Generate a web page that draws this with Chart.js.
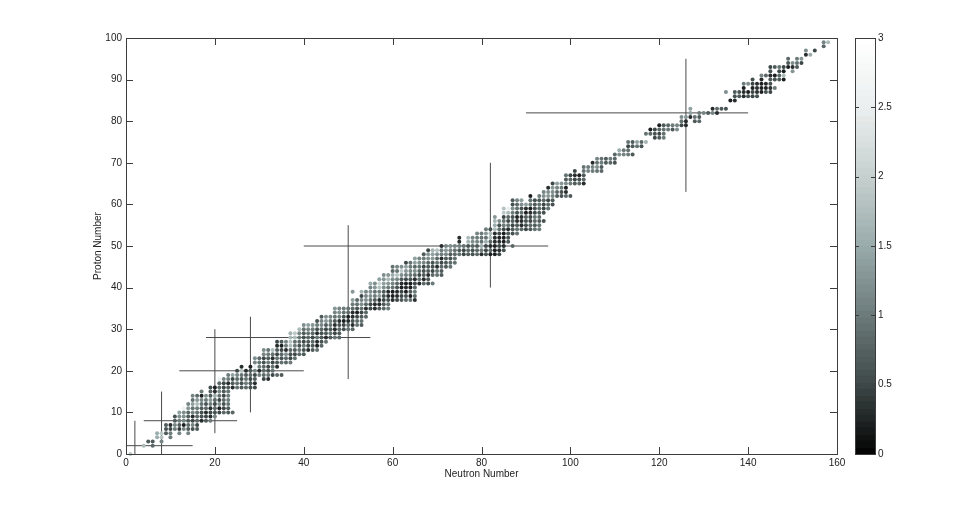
<!DOCTYPE html>
<html>
<head>
<meta charset="utf-8">
<script src="https://cdn.jsdelivr.net/npm/chart.js@4"></script>
<style>
html,body{margin:0;padding:0;background:#fff;width:969px;height:510px;overflow:hidden}
canvas{position:absolute;top:0;filter:blur(0.35px)}
#main{left:0}
#bar{left:850px}
</style>
</head>
<body>
<canvas id="main" width="969" height="510"></canvas>
<canvas id="bar" width="60" height="510"></canvas>
<script>
const xTitle = "Neutron Number";
const yTitle = "Proton Number";
const protonNumbers = [0,2,3,4,5,6,7,8,9,10,11,12,13,14,15,16,17,18,19,20,21,22,23,24,25,26,27,28,29,30,31,32,33,34,35,36,37,38,39,40,41,42,43,44,45,46,47,48,49,50,51,52,53,54,55,56,57,58,59,60,61,62,63,64,65,66,67,68,69,70,71,72,73,74,75,76,77,78,79,80,81,82,83,85,86,87,88,89,90,91,92,93,94,95,96,97,98,99];
const firstNeutron = [1,4,5,7,7,9,9,11,11,12,13,14,15,15,17,19,21,21,23,25,26,29,29,31,31,34,34,37,37,39,40,43,44,47,47,51,51,53,51,55,55,57,58,60,60,63,65,67,68,71,75,75,79,81,83,83,83,85,85,87,87,91,94,95,96,99,99,101,103,105,106,110,111,113,113,119,117,118,120,125,125,127,127,136,137,135,139,139,141,143,145,145,149,149,153,153,157,157];
const rowValues = [
[1.9],
[1.7,null,0.8],
[0.7,0.7,null,1.1],
[1.5,1.8,null,1.0],
[1.5,1.9,0.7,1.0,null,1.1,null,1.1],
[0.6,0.5,1.0,0.4,1.1,0.7,0.6,0.7],
[0.7,0.3,1.1,0.7,0.2,0.8,1.1,0.5],
[0.7,1.0,1.1,0.7,0.5,0.8,0.3,0.7,1.0],
[0.6,1.2,1.2,0.7,0.3,0.8,0.6,0.5,0.3,1.1],
[1.4,1.2,0.8,1.1,0.9,0.6,0.3,0.5,0.6,0.5,0.8,0.7,0.8],
[2.6,1.3,0.9,1.0,0.7,0.8,0.3,0.8,0.2,0.5,0.7],
[1.1,1.4,1.7,0.9,0.6,1.0,0.5,1.2,0.6,0.9],
[0.9,1.3,1.1,1.0,1.3,0.8,0.5,0.8,1.0],
[1.1,0.8,0.2,1.2,0.7,1.5,0.9,0.5,1.0],
[1.0,null,0.8,0.3,1.1,0.7,0.9],
[0.6,0.2,0.8,0.5,0.7,0.3,0.9,0.7,0.8,0.6,0.5],
[0.8,0.5,0.3,0.7,0.9,0.6,1.0,0.7,0.3],
[2.5,1.1,1.0,0.5,0.8,0.6,0.9,0.5,0.7,null,0.5,0.3],
[1.0,1.4,1.1,0.9,0.7,0.8,0.5,1.0,0.8,0.9,0.5,0.8,0.7],
[0.5,1.8,0.3,0.7,1.1,0.3,0.8,0.6,0.9],
[0.3,null,0.2,2.5,1.0,0.8,0.5,0.9,0.3],
[1.1,0.9,0.6,1.0,0.5,0.7,0.9,0.8,1.0],
[1.2,0.8,0.5,0.7,0.3,0.9,0.6,0.8,0.5,0.9],
[1.1,1.0,0.9,0.5,0.8,1.2,0.6,0.5,0.8,0.7],
[1.2,0.9,1.7,0.7,0.5,0.3,0.8,0.7,0.9,0.6,0.3,0.7,0.9],
[0.3,0.2,1.0,1.7,1.0,0.6,0.9,0.5,0.7,0.2,0.8],
[0.5,0.7,1.1,1.8,0.9,0.8,0.5,0.7,0.8,0.3,0.6,0.9],
[1.7,1.7,1.0,0.6,0.8,0.5,0.9,0.7,0.3,0.7,0.9,0.8],
[1.6,1.9,1.1,0.7,0.9,0.8,0.3,0.6,0.7,0.9,0.5,0.7],
[1.7,0.9,1.1,1.0,0.6,0.8,0.5,0.7,0.3,0.8,0.6,0.9,0.8],
[1.2,1.4,1.3,1.0,1.1,0.7,0.9,0.3,0.6,0.5,0.8,0.3,0.9,0.7],
[0.6,1.1,1.3,1.0,0.7,0.3,0.2,0.3,0.6,0.8,0.9],
[0.7,1.2,1.1,0.9,1.0,0.6,0.2,0.3,0.5,0.7,0.8],
[1.1,1.2,0.9,0.8,0.3,0.2,0.5,0.8],
[1.3,1.1,1.0,0.9,0.8,0.6,0.9,0.3,0.5,0.3,0.7,0.8,1.0],
[1.0,0.9,1.2,0.8,0.5,0.3,0.3,0.7,0.9],
[1.4,0.8,1.1,1.2,0.9,0.7,0.3,0.5,0.6,0.3,0.5,0.7,0.8,0.9,0.3],
[0.5,1.1,1.2,1.0,1.3,0.6,0.3,0.2,0.3,0.5,0.6,0.2,0.8],
[1.3,null,1.6,1.1,1.2,0.9,1.0,0.7,0.3,0.2,0.3,0.5,0.2,0.7,1.0],
[1.1,1.3,1.8,1.2,1.0,0.9,0.6,0.2,0.3,0.2,0.8],
[1.5,1.2,2.1,1.4,1.3,1.1,0.8,0.3,0.2,0.2,0.5,0.3,0.8,0.6,1.0],
[1.4,1.3,1.7,1.2,1.1,0.7,0.5,0.6,0.3,0.9,0.3,0.7],
[1.2,1.3,1.5,1.8,1.2,1.0,0.9,0.8,0.5,0.7,0.3,0.8,0.9,0.7],
[0.8,0.9,1.9,1.3,1.1,1.2,0.8,0.6,0.7,0.5,0.9,0.7],
[0.9,1.1,1.2,1.4,1.0,0.8,0.9,0.5,0.7,0.6,0.3,0.8,0.7,0.9],
[0.5,0.9,1.4,1.2,1.1,0.8,0.6,0.9,0.5,0.7,0.8,0.9],
[1.4,1.1,1.0,1.2,1.3,0.8,0.3,0.7,0.6,0.9],
[0.7,1.3,1.4,1.2,1.0,1.1,0.7,0.8,0.9,0.5,0.7,0.6,0.8,0.3,0.6,0.2,0.2,0.5],
[0.5,1.6,1.8,1.0,1.3,1.1,0.9,0.7,0.5,0.8,0.6,0.8,1.0,0.5,0.8,0.2,0.3,0.6],
[0.3,1.1,1.2,1.1,1.0,0.9,0.6,0.8,0.7,1.5,0.5,0.3,0.2,0.5,0.3,null,0.8],
[0.3,null,1.6,1.2,1.1,0.9,1.5,0.8,0.3,0.3,0.2,0.7],
[0.3,null,1.7,1.1,1.0,0.9,0.9,1.7,0.3,0.2,0.2,0.6],
[1.1,1.0,1.3,1.7,0.3,0.5,0.2,0.7,0.6,0.9],
[1.0,0.6,1.7,0.9,0.5,0.3,0.7,0.9,0.8,0.5,0.7,0.9,1.0],
[1.5,0.6,1.0,0.9,0.5,0.7,0.3,0.6,0.8,0.7,0.9],
[1.6,1.2,0.9,0.5,0.7,0.3,0.3,0.6,0.5,0.8,0.7,0.6],
[1.3,null,0.5,0.8,0.6,0.2,0.3,0.7,0.5,0.9,0.8],
[1.9,1.7,1.0,0.6,0.9,0.2,0.3,0.5,0.7,0.6],
[1.8,2.5,1.2,0.9,0.6,0.3,0.2,0.6,0.8,0.5,0.9],
[0.6,0.8,1.2,1.4,1.0,0.7,0.9,0.5,0.8,0.6],
[0.7,1.1,1.4,null,0.9,0.6,0.7,0.8,0.5,0.7],
[0.2,null,1.0,1.2,1.3,1.1,0.7,0.6,0.8,0.7],
[1.1,1.2,1.2,0.8,0.6,0.3],
[0.3,1.3,1.1,1.0,0.2],
[0.5,1.4,1.3,1.2,1.0,0.7,0.8,0.3],
[0.7,0.8,0.5,0.6,0.8],
[0.9,0.5,0.3,0.2,0.7],
[0.5,null,0.9,1.1,1.0,0.9,0.8],
[0.9,1.0,1.1,1.2,0.7],
[0.3,0.9,1.0,0.7,0.8,0.6],
[1.1,0.9,0.7,1.0,0.8],
[0.8,1.2,1.1,1.0,0.7],
[1.5,1.0,0.9],
[0.5,0.7,0.9,0.6],
[0.9,0.7,1.4,0.8,1.6],
[0.5,0.7,1.0],
[0.9,0.8,0.6,0.5,0.9],
[0.2,0.5,0.8,0.9,1.0,0.7,1.2],
[0.2,0.7,0.8,1.0,1.1,0.5,0.3],
[0.9,0.3,null,0.7,0.8],
[1.2,1.3,0.3,0.9,0.7],
[1.4,null,1.0,1.1,0.7,1.1,0.3],
[1.4,null,null,null,null,0.3,0.8,0.7,0.6],
[0.2,0.3],
[0.6,0.7,0.3,0.6,0.5,0.6],
[1.2,null,0.7,0.6,0.3,0.2,0.5,0.3,0.2,0.6,0.5],
[0.2,null,0.2,0.3,0.2,0.2,0.3,1.0],
[1.0,1.2,0.5,0.3,0.2,0.3,0.6],
[0.6,null,0.3,null,0.7,0.6,0.7,0.2],
[1.1,0.8,0.3,0.2,0.8,1.7],
[0.6,null,0.5,0.2,null,1.3],
[0.5,0.7,0.9,0.5,0.2,0.3,0.7],
[0.7,1.2,0.9,0.5],
[0.8,null,1.0,1.3,2.9],
[0.3,1.5],
[1.2,null,0.5],
[0.8],
[1.1,1.7]
];
const xTicks = [0,20,40,60,80,100,120,140,160];
const yTicks = [0,10,20,30,40,50,60,70,80,90,100];
const colorTicks = [0,0.5,1,1.5,2,2.5,3];
const magicLinesHorizontal = [[2,0,15],[8,4,25],[20,12,40],[28,18,55],[50,40,95],[82,90,140]];
const magicLinesVertical = [[2,0,8],[8,0,15],[20,5,30],[28,10,33],[50,18,55],[82,40,70],[126,63,95]];
const colorStops = [[0,5,5,5],[0.167,64,74,74],[0.333,109,123,123],[0.5,154,171,171],[0.667,197,208,206],[0.833,234,238,238],[1,255,255,255]];
const colorLevels = 64;

function colourOf(v){
  const idx = Math.min(colorLevels-1, Math.floor(v/3*colorLevels));
  const t = idx/(colorLevels-1);
  for(let i=1;i<colorStops.length;i++){
    if(t<=colorStops[i][0]){
      const a=colorStops[i-1], b=colorStops[i], f=(t-a[0])/(b[0]-a[0]);
      return `rgb(${[1,2,3].map(k=>Math.round(a[k]+(b[k]-a[k])*f)).join(',')})`;
    }
  }
  return 'rgb(255,255,255)';
}

const points=[], pointColours=[];
rowValues.forEach((row,r)=>row.forEach((v,i)=>{
  if(v===null) return;
  points.push({x:firstNeutron[r]+i,y:protonNumbers[r]});
  pointColours.push(colourOf(v));
}));

const lineStyle={showLine:true,pointRadius:0,borderColor:'#4a4a4a',borderWidth:1,order:1,parsing:false,clip:false};
const lineSets=[
  ...magicLinesHorizontal.map(([z,a,b])=>({...lineStyle,data:[{x:a,y:z},{x:b,y:z}]})),
  ...magicLinesVertical.map(([n,a,b])=>({...lineStyle,data:[{x:n,y:a},{x:n,y:b}]}))
];

const boxTicks={
  id:'boxTicks',
  afterDraw(c,args,o){
    const g=c.ctx,a=c.chartArea;
    g.save();g.strokeStyle='#3c3c3c';g.lineWidth=1;
    g.strokeRect(Math.round(a.left)+0.5,Math.round(a.top)+0.5,Math.round(a.width),Math.round(a.height));
    g.beginPath();
    const ys=c.scales.y;
    ys.ticks.forEach(t=>{
      const p=Math.round(ys.getPixelForValue(t.value))+0.5;
      g.moveTo(a.left,p);g.lineTo(a.left+o.len,p);
      g.moveTo(a.right,p);g.lineTo(a.right-o.len,p);
    });
    if(o.xTicks){
      const xs=c.scales.x;
      xs.ticks.forEach(t=>{
        const p=Math.round(xs.getPixelForValue(t.value))+0.5;
        g.moveTo(p,a.bottom);g.lineTo(p,a.bottom-o.len);
        g.moveTo(p,a.top);g.lineTo(p,a.top+o.len);
      });
    }
    g.stroke();g.restore();
  }
};

const font={family:'"Liberation Sans",Arial,sans-serif',size:10};
new Chart(document.getElementById('main'),{
  type:'scatter',
  data:{datasets:[
    {data:points,parsing:false,pointRadius:2,pointHoverRadius:2,pointBackgroundColor:pointColours,pointBorderWidth:0,order:0,clip:false},
    ...lineSets
  ]},
  options:{
    responsive:false,animation:false,devicePixelRatio:1,
    layout:{padding:{left:92,top:38,right:132,bottom:30}},
    plugins:{legend:{display:false},tooltip:{enabled:false},boxTicks:{len:7,xTicks:true}},
    scales:{
      x:{type:'linear',min:0,max:160,
        grid:{display:false,drawTicks:false},border:{display:false},
        afterBuildTicks(s){s.ticks=xTicks.map(value=>({value}));},
        afterFit(s){s.height=26;},
        ticks:{font,color:'#222',padding:3,maxRotation:0,autoSkip:false},
        title:{display:true,text:xTitle,font,color:'#222',padding:0}},
      y:{type:'linear',min:0,max:100,
        grid:{display:false,drawTicks:false},border:{display:false},
        afterBuildTicks(s){s.ticks=yTicks.map(value=>({value}));},
        afterFit(s){s.width=34;},
        ticks:{font,color:'#222',padding:4,autoSkip:false},
        title:{display:true,text:yTitle,font,color:'#222',padding:0}}
    }
  },
  plugins:[boxTicks]
});

const levelIndex=Array.from({length:colorLevels},(_,i)=>i);
new Chart(document.getElementById('bar'),{
  type:'bar',
  data:{labels:['c'],datasets:levelIndex.map(i=>({
    data:[[i*3/colorLevels,(i+1)*3/colorLevels]],
    backgroundColor:colourOf((i+0.5)*3/colorLevels),
    borderWidth:0,barPercentage:1,categoryPercentage:1,grouped:false
  }))},
  options:{
    responsive:false,animation:false,devicePixelRatio:1,
    layout:{padding:{left:5,top:38,right:0,bottom:56}},
    plugins:{legend:{display:false},tooltip:{enabled:false},boxTicks:{len:4,xTicks:false}},
    scales:{
      x:{display:false},
      y:{position:'right',min:0,max:3,
        grid:{display:false,drawTicks:false},border:{display:false},
        afterBuildTicks(s){s.ticks=colorTicks.map(value=>({value}));},
        afterFit(s){s.width=35;},
        ticks:{font,color:'#222',padding:3,autoSkip:false,callback:v=>String(v)}}
    }
  },
  plugins:[boxTicks]
});
</script>
</body>
</html>
